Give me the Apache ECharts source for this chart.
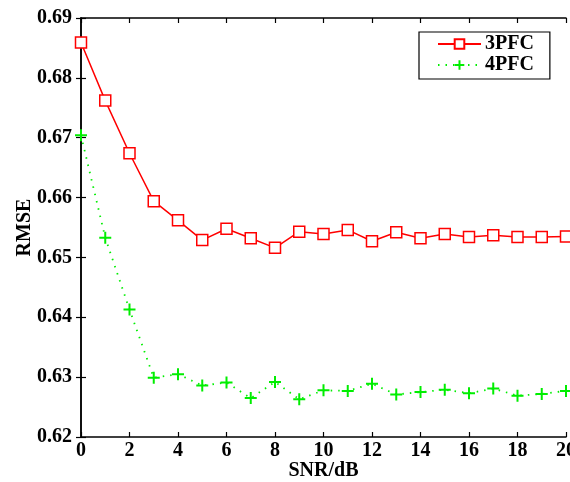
<!DOCTYPE html>
<html><head><meta charset="utf-8">
<script src="https://cdn.jsdelivr.net/npm/echarts@6/dist/echarts.min.js"></script>
<style>html,body{margin:0;padding:0;background:#fff}#c{width:570px;height:482px}</style>
</head><body><div id="c"></div>
<script>
const snr = [0,1,2,3,4,5,6,7,8,9,10,11,12,13,14,15,16,17,18,19,20];
const pfc3 = [0.6859,0.6762,0.6674,0.6594,0.6562,0.6529,0.6548,0.6532,0.6516,0.6543,0.6539,0.6546,0.6527,0.6542,0.6532,0.6539,0.6534,0.6537,0.6534,0.6534,0.6535];
const pfc4 = [0.6704,0.6533,0.6413,0.6299,0.6305,0.6286,0.6291,0.6265,0.6292,0.6263,0.6278,0.6277,0.6289,0.6271,0.6275,0.6279,0.6273,0.6281,0.6269,0.6272,0.6277];
const seriesNames = ['3PFC','4PFC'];
const font = '"Liberation Serif", "Times New Roman", serif';
const chart = echarts.init(document.getElementById('c'));
const axisLine = {show:true, lineStyle:{color:'#000', width:1.5}};
const tick = {show:true, inside:true, length:5, lineStyle:{color:'#000', width:1.2}};
const lbl = {color:'#000', fontFamily:font, fontWeight:'bold', fontSize:20};
chart.setOption({
  animation:false,
  grid:{left:81, right:4, top:18, bottom:45, containLabel:false, outerBoundsMode:'none'},
  legend:{
    left:419, top:32, width:130, orient:'vertical',
    backgroundColor:'#fff', borderColor:'#000', borderWidth:1.2,
    padding:[2,16,4,18], itemGap:1, itemWidth:43, itemHeight:12,
    textStyle:{color:'#000', fontFamily:font, fontWeight:'bold', fontSize:20, padding:[0,0,0,-1]},
    data:seriesNames
  },
  xAxis:[{
    type:'value', min:0, max:20, interval:2,
    name:'SNR/dB', nameLocation:'middle', nameGap:24, nameMoveOverlap:false,
    nameTextStyle:{color:'#000', fontFamily:font, fontWeight:'bold', fontSize:20},
    axisLine:axisLine, axisTick:tick, splitLine:{show:false},
    axisLabel:Object.assign({margin:4}, lbl)
  },{
    type:'value', min:0, max:20, interval:2, position:'top',
    axisLine:axisLine, axisTick:tick, splitLine:{show:false}, axisLabel:{show:false}
  }],
  yAxis:[{
    type:'value', min:0.62, max:0.69, interval:0.01,
    name:'RMSE', nameLocation:'middle', nameGap:46, nameRotate:90, nameMoveOverlap:false,
    nameTextStyle:{color:'#000', fontFamily:font, fontWeight:'bold', fontSize:20},
    axisLine:axisLine, axisTick:tick, splitLine:{show:false},
    axisLabel:Object.assign({margin:9, formatter:v=>v.toFixed(2)}, lbl)
  },{
    type:'value', min:0.62, max:0.69, interval:0.01, position:'right',
    axisLine:axisLine, axisTick:tick, splitLine:{show:false}, axisLabel:{show:false}
  }],
  series:[{
    name:seriesNames[0], type:'line',
    data:snr.map((x,i)=>[x,pfc3[i]]),
    symbol:'rect', symbolSize:11,
    lineStyle:{color:'#ff0000', width:1.5},
    itemStyle:{color:'#fff', borderColor:'#ff0000', borderWidth:1.5},
    z:3
  },{
    name:seriesNames[1], type:'line',
    data:snr.map((x,i)=>[x,pfc4[i]]),
    symbol:'path://M0,5L10,5M5,0L5,10', symbolSize:12, symbolKeepAspect:true,
    lineStyle:{color:'#00ee00', width:1.8, type:[1.5,6]},
    itemStyle:{color:'none', borderColor:'#00ee00', borderWidth:2},
    z:2
  }]
});
</script></body></html>
